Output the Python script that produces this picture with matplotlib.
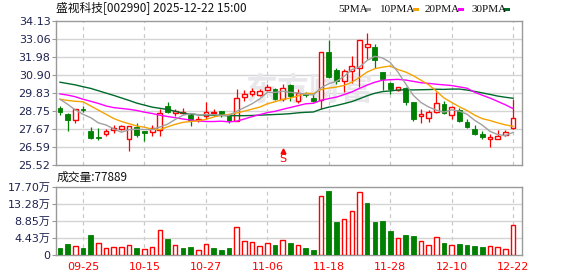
import matplotlib
matplotlib.use("Agg")
import matplotlib.pyplot as plt
from matplotlib.patches import Rectangle

# ---------------- data ----------------
dates = ["09-25", "10-15", "10-27", "11-06", "11-18", "11-28", "12-10", "12-22"]
date_idx = [3, 11, 19, 27, 35, 43, 51, 59]

opens = [28.94, 28.59, 28.22, 28.88, 27.57, 27.22, 27.35, 27.61, 27.69, 27.06,
         27.80, 27.55, 27.47, 27.61, 29.02, 28.61, 28.63, 28.49, 28.22, 28.45,
         28.64, 28.73, 28.45, 28.14, 29.59, 29.78, 29.71, 29.98, 30.08, 29.49,
         30.30, 29.35, 29.80, 29.55, 29.40, 32.26, 31.20, 30.55, 31.14, 31.30,
         32.55, 32.55, 31.10, 30.40, 30.00, 30.11, 29.27, 28.45, 28.31, 28.69,
         29.14, 28.51, 28.80, 28.10, 27.67, 27.37, 27.05, 27.05, 27.32, 27.72]
highs = [29.04, 28.62, 28.88, 29.04, 27.82, 27.71, 27.65, 27.94, 27.94, 27.88,
         28.02, 27.55, 27.90, 28.84, 29.27, 28.88, 28.92, 28.65, 28.45, 29.31,
         28.88, 28.75, 28.55, 30.06, 30.02, 30.12, 30.06, 30.37, 30.12, 30.35,
         30.37, 30.05, 29.90, 29.75, 32.30, 33.00, 31.30, 31.25, 32.05, 33.00,
         33.42, 32.74, 31.10, 30.50, 30.18, 30.20, 29.27, 28.88, 28.80, 29.86,
         29.33, 29.04, 28.94, 28.26, 27.90, 27.57, 27.40, 27.62, 27.60, 29.45]
lows = [28.49, 27.57, 28.06, 28.71, 27.08, 27.02, 27.28, 27.45, 27.59, 26.34,
        27.18, 26.98, 27.26, 27.28, 28.61, 28.45, 28.55, 27.88, 28.12, 28.30,
        28.45, 28.37, 28.06, 28.14, 29.33, 29.67, 29.63, 29.92, 29.39, 29.37,
        29.37, 29.25, 29.60, 29.30, 28.85, 30.70, 30.35, 29.90, 30.45, 30.20,
        31.85, 31.30, 30.00, 29.75, 29.95, 29.10, 28.16, 28.06, 28.12, 28.65,
        28.55, 28.26, 28.12, 27.73, 27.31, 27.08, 26.62, 27.05, 27.27, 27.65]
closes = [28.71, 28.20, 28.88, 28.80, 27.14, 27.16, 27.55, 27.73, 27.84, 27.88,
          27.31, 27.42, 27.71, 28.65, 28.71, 28.73, 28.67, 28.22, 28.30, 28.71,
          28.69, 28.49, 28.18, 29.55, 29.78, 29.92, 29.94, 30.18, 29.47, 30.12,
          29.62, 29.80, 29.70, 29.35, 32.26, 30.80, 30.55, 31.14, 31.42, 33.00,
          32.76, 31.78, 30.66, 30.06, 30.16, 29.26, 28.29, 28.55, 28.69, 29.20,
          28.65, 29.00, 28.16, 27.77, 27.37, 27.18, 27.20, 27.25, 27.52, 28.33]

ma5 = [29.45, 29.15, 28.81, 28.55, 28.35, 28.04, 27.91, 27.68, 27.48, 27.63,
       27.66, 27.64, 27.63, 27.79, 27.96, 28.24, 28.49, 28.60, 28.53, 28.53,
       28.53, 28.49, 28.48, 28.73, 28.95, 29.18, 29.47, 29.87, 29.86, 29.93,
       29.86, 29.83, 29.74, 29.71, 30.14, 30.38, 30.53, 30.82, 31.23, 31.38,
       31.77, 32.02, 31.92, 31.65, 31.08, 30.38, 29.69, 29.26, 28.99, 28.80,
       28.68, 28.82, 28.74, 28.56, 28.19, 27.90, 27.53, 27.34, 27.28, 27.47]
ma10 = [29.45, 29.38, 29.33, 29.30, 29.05, 28.80, 28.55, 28.30, 28.12, 27.99,
        27.85, 27.78, 27.66, 27.64, 27.80, 27.95, 28.07, 28.12, 28.16, 28.25,
        28.39, 28.49, 28.54, 28.63, 28.74, 28.86, 28.98, 29.18, 29.30, 29.44,
        29.52, 29.65, 29.81, 29.79, 30.04, 30.12, 30.18, 30.28, 30.47, 30.76,
        31.08, 31.28, 31.37, 31.44, 31.23, 31.08, 30.86, 30.59, 30.32, 29.94,
        29.53, 29.26, 29.00, 28.78, 28.50, 28.29, 28.18, 28.04, 27.92, 27.83]
ma20 = [29.77, 29.70, 29.60, 29.45, 29.33, 29.20, 29.05, 28.95, 28.90, 28.85,
        28.78, 28.68, 28.60, 28.50, 28.42, 28.35, 28.27, 28.21, 28.16, 28.12,
        28.12, 28.14, 28.10, 28.14, 28.27, 28.41, 28.53, 28.65, 28.73, 28.85,
        28.96, 29.07, 29.18, 29.21, 29.39, 29.49, 29.58, 29.73, 29.89, 30.10,
        30.30, 30.47, 30.59, 30.62, 30.64, 30.60, 30.52, 30.44, 30.40, 30.35,
        30.31, 30.27, 30.19, 30.11, 29.87, 29.69, 29.52, 29.32, 29.12, 28.89]
ma30 = [30.47, 30.39, 30.31, 30.20, 30.10, 29.96, 29.82, 29.68, 29.53, 29.38,
        29.22, 29.10, 28.98, 28.91, 28.84, 28.73, 28.62, 28.57, 28.52, 28.51,
        28.50, 28.48, 28.47, 28.47, 28.47, 28.48, 28.50, 28.52, 28.54, 28.56,
        28.59, 28.64, 28.67, 28.69, 28.86, 28.98, 29.08, 29.19, 29.31, 29.48,
        29.66, 29.81, 29.91, 29.95, 30.00, 30.02, 30.01, 30.02, 30.03, 30.05,
        30.04, 30.06, 30.06, 30.00, 29.92, 29.83, 29.74, 29.64, 29.57, 29.51]

# volume in 万
volumes = [1.82, 2.86, 2.34, 1.82, 5.21, 3.04, 1.82, 2.08, 2.08, 2.60,
           1.82, 1.56, 2.08, 6.42, 4.16, 2.60, 1.82, 2.08, 1.21, 2.78,
           1.82, 1.21, 1.82, 7.20, 3.56, 3.30, 2.34, 3.04, 2.60, 3.82,
           3.04, 2.52, 1.82, 1.30, 15.27, 16.66, 8.59, 9.28, 11.37, 16.31,
           13.54, 8.59, 8.85, 6.25, 4.34, 5.21, 4.95, 3.56, 2.52, 4.69,
           3.12, 2.60, 2.86, 2.60, 2.34, 2.08, 2.34, 2.08, 1.48, 7.79]
vol_up = [0, 0, 1, 0, 0, 1, 1, 1, 1, 1,
          0, 1, 1, 1, 0, 1, 0, 0, 1, 1,
          0, 0, 0, 1, 1, 1, 1, 1, 0, 1,
          0, 1, 0, 0, 1, 0, 0, 1, 1, 1,
          0, 0, 0, 0, 1, 0, 0, 1, 1, 1,
          0, 1, 0, 0, 0, 0, 1, 1, 1, 1]

price_ticks = [25.52, 26.59, 27.67, 28.75, 29.83, 30.90, 31.98, 33.06, 34.13]
price_labels = ["25.52", "26.59", "27.67", "28.75", "29.83", "30.90", "31.98", "33.06", "34.13"]
vol_ticks = [0, 4.43, 8.85, 13.28, 17.70]
vol_labels = ["0", "4.43万", "8.85万", "13.28万", "17.70万"]

title_text = "盛视科技[002990] 2025-12-22 15:00"
vol_title = "成交量:77889"
signal_idx = 29

# ---------------- style ----------------
RED = "#ff0000"
GREEN = "#008000"
GRID = "#d4d4d4"
FRAME = "#9a9a9a"
LABEL = "#1f2350"
W, H = 578, 276
CJK = ["Noto Sans CJK SC", "DejaVu Sans"]
NUM = ["DejaVu Sans", "Noto Sans CJK SC"]

fig = plt.figure(figsize=(W / 100, H / 100), dpi=100)
fig.patch.set_facecolor("white")

def fx(px):
    return px / W

def fy(py):
    return 1 - py / H

L, R = 56, 522
axp = fig.add_axes([fx(L), fy(165), fx(R - L), (165 - 21) / H])
axv = fig.add_axes([fx(L), fy(255), fx(R - L), (255 - 187) / H])

n = len(closes)
xs = list(range(n))
xlim = (-0.52, 60.16)

for ax in (axp, axv):
    ax.set_xlim(*xlim)
    for s in ax.spines.values():
        s.set_color(FRAME)
        s.set_linewidth(1.0)
    ax.tick_params(axis="y", direction="out", length=3, width=0.8, color=FRAME,
                   labelcolor=LABEL, labelsize=8, pad=1)
    ax.tick_params(axis="x", length=0)
    for d in date_idx:
        ax.axvline(d, color="#c8c8c8", lw=0.9, ls=(0, (3, 3)), zorder=0)

# price panel
axp.set_ylim(price_ticks[0], price_ticks[-1])
axp.set_yticks(price_ticks)
axp.set_yticklabels(price_labels, family=NUM)
for t in price_ticks[1:-1]:
    axp.axhline(t, color=GRID, lw=1.0, zorder=0)
axp.set_xticks([])

# watermark
axp.text(32.5, 29.9, "东方财富", family=CJK, fontsize=23, color="#e8e8ec",
         ha="center", va="center", zorder=0.5, style="italic", fontweight="bold")

bw = 0.62
for i in xs:
    o, h, l, c = opens[i], highs[i], lows[i], closes[i]
    up = c >= o
    col = RED if up else GREEN
    axp.vlines(i, l, h, color=col, lw=0.9, zorder=2)
    bottom = min(o, c)
    height = max(abs(c - o), 0.03)
    if up:
        axp.add_patch(Rectangle((i - bw / 2, bottom), bw, height, facecolor="white",
                                edgecolor=RED, lw=1.0, zorder=3))
    else:
        axp.add_patch(Rectangle((i - bw / 2, bottom), bw, height, facecolor=GREEN,
                                edgecolor=GREEN, lw=0.6, zorder=3))

axp.plot(xs, ma30, color="#006a2c", lw=1.0, zorder=4)
axp.plot(xs, ma20, color="#ff00ff", lw=1.0, zorder=4)
axp.plot(xs, ma10, color="#f5a300", lw=1.0, zorder=4)
axp.plot(xs, ma5, color="#a0a0a0", lw=1.0, zorder=4)

# signal marker
axp.text(signal_idx, 25.58, "S", color=RED, fontsize=8, ha="center", va="bottom",
         family="DejaVu Sans", zorder=5)
axp.plot([signal_idx], [26.33], marker="^", color=RED, markersize=3.5, zorder=5)

# volume panel
axv.set_ylim(0, vol_ticks[-1])
axv.set_yticks(vol_ticks)
axv.set_yticklabels(vol_labels, family=NUM)
for t in vol_ticks[1:-1]:
    axv.axhline(t, color=GRID, lw=1.0, zorder=0)
vw = 0.6
for i in xs:
    if vol_up[i]:
        axv.add_patch(Rectangle((i - vw / 2, 0), vw, volumes[i], facecolor="white",
                                edgecolor=RED, lw=1.0, zorder=3))
    else:
        axv.add_patch(Rectangle((i - vw / 2, 0), vw, volumes[i], facecolor=GREEN,
                                edgecolor=GREEN, lw=0.6, zorder=3))
axv.set_xticks(date_idx)
axv.set_xticklabels(dates, color=RED, fontsize=8, family="DejaVu Sans")
axv.tick_params(axis="x", pad=5)

# texts
fig.text(fx(56), fy(9), title_text, family=CJK, fontsize=8.5, color="#111111",
         ha="left", va="center")
fig.text(fx(57), fy(177), vol_title, family=CJK, fontsize=8.5, color="#111111",
         ha="left", va="center")

legend_items = [("5PMA", 338, "#a0a0a0"), ("10PMA", 380, "#f5a300"),
                ("20PMA", 425, "#ff00ff"), ("30PMA", 472, "#006a2c")]
for label, px, col in legend_items:
    t = fig.text(fx(px), fy(9), label, family="Liberation Serif", fontsize=8,
                 color="#111111", ha="left", va="center")
sq_x = [365, 413, 458, 504]
for (label, px, col), sx in zip(legend_items, sq_x):
    fig.patches.append(Rectangle((fx(sx), fy(11)), fx(6), 3 / H, facecolor=col,
                                 edgecolor="none", transform=fig.transFigure))

fig.savefig("out.png", dpi=100, facecolor="white")
